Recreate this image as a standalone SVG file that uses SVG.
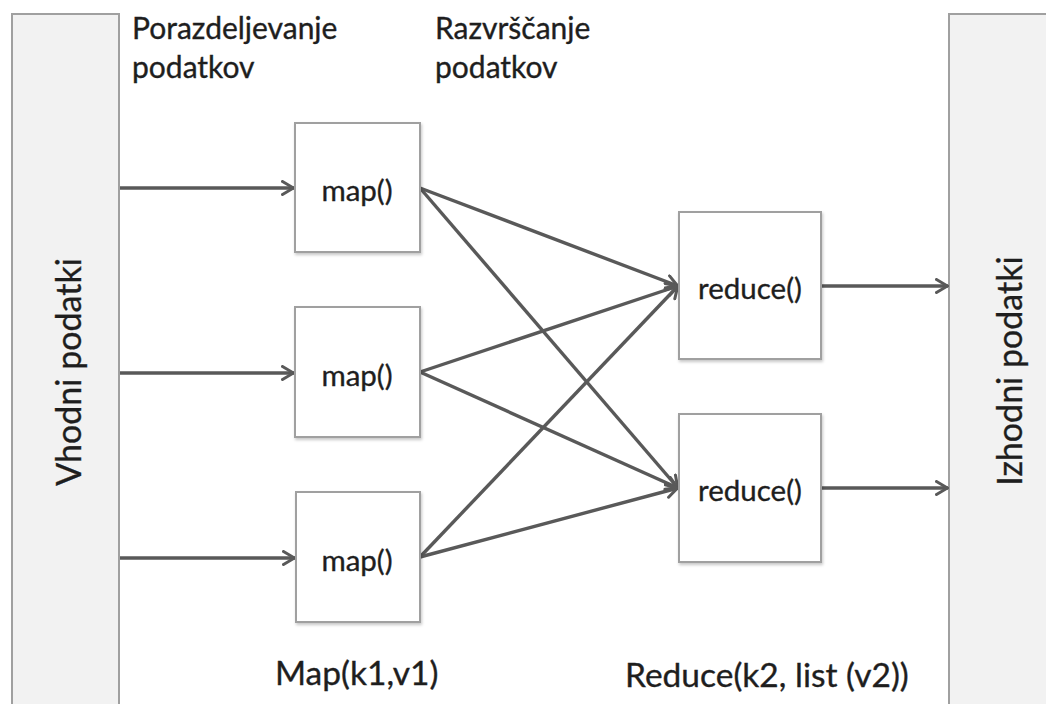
<svg xmlns="http://www.w3.org/2000/svg" width="1046" height="704" viewBox="0 0 1046 704">
  <defs>
    <marker id="arrow" viewBox="0 0 14 16" refX="13" refY="8" markerWidth="14" markerHeight="16" markerUnits="userSpaceOnUse" orient="auto">
      <path d="M1.5,1.5 L12.5,8 L1.5,14.5" fill="none" stroke="#595959" stroke-width="3" stroke-linejoin="miter" stroke-linecap="round"/>
    </marker>
    <filter id="shadow" x="-10%" y="-10%" width="130%" height="130%">
      <feDropShadow dx="1" dy="2" stdDeviation="1.5" flood-color="#000" flood-opacity="0.22"/>
    </filter>
  </defs>
  <style>
    .bar { fill: #f2f2f2; stroke: #a0a0a0; stroke-width: 2; }
    .box { fill: #ffffff; stroke: #a0a0a0; stroke-width: 2; filter: url(#shadow); }
    .edge { stroke: #595959; stroke-width: 3.4; fill: none; marker-end: url(#arrow); }
    text { font-family: "Lato", "Open Sans", "Liberation Sans", sans-serif; fill: #1e1e1e; stroke: #1e1e1e; stroke-width: 0.35px; }
    .head { font-size: 30px; }
    .fn { font-size: 29.5px; text-anchor: middle; }
    .sig { font-size: 33.5px; }
    .side { font-size: 34px; text-anchor: middle; }
  </style>

  <rect width="1046" height="704" fill="#ffffff"/>

  <!-- input data column -->
  <g id="input">
    <rect class="bar" x="12" y="14" width="107" height="700"/>
    <text class="side" transform="translate(81,372) rotate(-90)">Vhodni podatki</text>
  </g>

  <!-- output data column -->
  <g id="output">
    <rect class="bar" x="949" y="14" width="110" height="700"/>
    <text class="side" transform="translate(1022,371) rotate(-90)">Izhodni podatki</text>
  </g>

  <!-- phase headings -->
  <g id="split-label">
    <text class="head" x="132" y="39">Porazdeljevanje</text>
    <text class="head" x="132" y="78">podatkov</text>
  </g>
  <g id="sort-label">
    <text class="head" x="435" y="39">Razvrščanje</text>
    <text class="head" x="435" y="78">podatkov</text>
  </g>

  <!-- connectors -->
  <g id="connectors">
    <line class="edge" x1="120" y1="188" x2="294" y2="188"/>
    <line class="edge" x1="120" y1="373" x2="294" y2="373"/>
    <line class="edge" x1="120" y1="558" x2="295" y2="558"/>

    <line class="edge" x1="420" y1="188" x2="678" y2="286"/>
    <line class="edge" x1="420" y1="188" x2="678" y2="488"/>
    <line class="edge" x1="420" y1="372" x2="678" y2="286"/>
    <line class="edge" x1="420" y1="372" x2="678" y2="488"/>
    <line class="edge" x1="420" y1="557" x2="678" y2="286"/>
    <line class="edge" x1="420" y1="557" x2="678" y2="488"/>

    <line class="edge" x1="821" y1="286" x2="948" y2="286"/>
    <line class="edge" x1="821" y1="488" x2="948" y2="488"/>
  </g>

  <!-- map tasks -->
  <g id="map1">
    <rect class="box" x="295" y="123" width="125" height="129"/>
    <text class="fn" x="357" y="201">map()</text>
  </g>
  <g id="map2">
    <rect class="box" x="295" y="307" width="125" height="130"/>
    <text class="fn" x="357" y="386">map()</text>
  </g>
  <g id="map3">
    <rect class="box" x="296" y="492" width="124" height="130"/>
    <text class="fn" x="357" y="571">map()</text>
  </g>

  <!-- reduce tasks -->
  <g id="reduce1">
    <rect class="box" x="679" y="212" width="142" height="147"/>
    <text class="fn" x="750" y="299">reduce()</text>
  </g>
  <g id="reduce2">
    <rect class="box" x="679" y="414" width="142" height="148"/>
    <text class="fn" x="750" y="501">reduce()</text>
  </g>

  <!-- function signatures -->
  <g id="map-signature">
    <text class="sig" x="275" y="685">Map(k1,v1)</text>
  </g>
  <g id="reduce-signature">
    <text class="sig" x="625" y="687">Reduce(k2, list (v2))</text>
  </g>
</svg>
